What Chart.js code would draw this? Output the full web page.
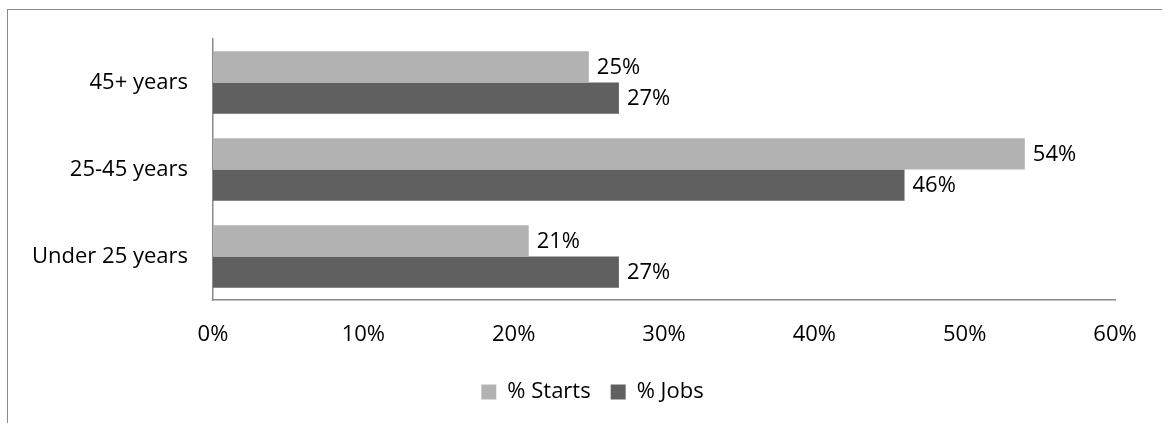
<!DOCTYPE html>
<html>
<head>
<meta charset="utf-8">
<script src="https://cdn.jsdelivr.net/npm/chart.js@4/dist/chart.umd.min.js"></script>
<style>
  html, body { margin: 0; padding: 0; background: #fff; }
  #wrap { position: relative; width: 1162px; height: 423px; overflow: hidden; }
  #frame { position: absolute; left: 7px; top: 9px; right: -5px; bottom: -5px; border-left: 1px solid #8a8a8a; border-top: 1px solid #8a8a8a; }
  canvas { position: absolute; left: 0; top: 0; }
</style>
</head>
<body>
<div id="wrap">
  <div id="frame"></div>
  <canvas id="myChart" width="1162" height="423"></canvas>
</div>
<script>
let categories = ["45+ years", "25-45 years", "Under 25 years"];
let startsValues = [25, 54, 21];
let jobsValues = [27, 46, 27];
let seriesNames = ["% Starts", "% Jobs"];
let xTicks = [0, 10, 20, 30, 40, 50, 60];

const fontFamily = "'Open Sans'";
const fontSize = 22;

// draws the value next to the end of every bar
const barValueLabels = {
  id: "barValueLabels",
  afterDatasetsDraw(chart) {
    const ctx = chart.ctx;
    ctx.save();
    ctx.font = fontSize + "px " + fontFamily;
    ctx.fillStyle = "#000";
    ctx.textAlign = "left";
    ctx.textBaseline = "middle";
    chart.data.datasets.forEach((ds, i) => {
      chart.getDatasetMeta(i).data.forEach((bar, j) => {
        ctx.fillText(ds.data[j] + "%", bar.x + 8, bar.y + 1);
      });
    });
    ctx.restore();
  },
};

// legend in the original sits a bit right of the canvas centre
const legendShift = {
  id: "legendShift",
  afterLayout(chart) {
    chart.legend.left += 35;
    chart.legend.right += 35;
  },
};

const data = {
  labels: categories,
  datasets: [
    {
      label: seriesNames[0],
      data: startsValues,
      backgroundColor: "#b2b2b2",
      categoryPercentage: 0.72,
      barPercentage: 1.0,
    },
    {
      label: seriesNames[1],
      data: jobsValues,
      backgroundColor: "#606060",
      categoryPercentage: 0.72,
      barPercentage: 1.0,
    },
  ],
};

const config = {
  type: "bar",
  data: data,
  options: {
    indexAxis: "y",
    responsive: false,
    animation: false,
    layout: { padding: { left: 0, top: 39, right: 47, bottom: 10 } },
    scales: {
      x: {
        min: 0,
        max: 60,
        afterBuildTicks(scale) {
          scale.ticks = xTicks.map((v) => ({ value: v }));
        },
        afterFit(scale) {
          scale.height = 61;
        },
        grid: { display: false, drawTicks: false },
        border: { color: "#8a8a8a", width: 1.5 },
        ticks: {
          padding: 22,
          color: "#000",
          font: { size: fontSize, family: fontFamily },
          callback: (v) => v + "%",
        },
      },
      y: {
        afterFit(scale) {
          scale.width = 213;
        },
        grid: { display: false, drawTicks: false },
        border: { color: "#8a8a8a", width: 1.5 },
        ticks: {
          padding: 25,
          color: "#000",
          font: { size: fontSize, family: fontFamily },
        },
      },
    },
    plugins: {
      legend: {
        position: "bottom",
        labels: {
          boxWidth: 15,
          boxHeight: 15,
          padding: 20,
          color: "#000",
          font: { size: fontSize, family: fontFamily },
        },
      },
      tooltip: { enabled: false },
    },
  },
  plugins: [barValueLabels, legendShift],
};

const myChart = new Chart(document.getElementById("myChart"), config);
</script>
</body>
</html>
